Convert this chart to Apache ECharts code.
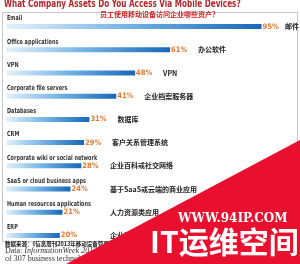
<!DOCTYPE html>
<html><head><meta charset="utf-8">
<script src="https://cdn.jsdelivr.net/npm/echarts@6/dist/echarts.min.js"></script>
<style>html,body{margin:0;padding:0;background:#fff}#c{width:300px;height:264px}</style>
</head><body><div id="c"></div>
<script>
const categories = ['Email','Office applications','VPN','Corporate file servers','Databases','CRM','Corporate wiki or social network','SaaS or cloud business apps','Human resources applications','ERP'];
const values = [95,61,48,41,31,29,28,24,21,20];
const cnLabels = ['邮件','办公软件','VPN','企业档案服务器','数据库','客户关系管理系统','企业百科或社交网络','基于SaaS或云端的商业应用','人力资源类应用','企业资源计划系统'];
const titleText = 'What Company Assets Do You Access Via Mobile Devices?';
const subtitleText = '员工使用移动设备访问企业哪些资产？';
const sourceCn = '数据来源：《信息周刊2013年移动设备管理调查》';
const sourceEn1 = 'InformationWeek 2013 Mobile Device Management Survey';
const sourceEn2 = 'of 307 business technology professionals';

const NARROW = '"DejaVu Sans Condensed", "Liberation Sans Narrow", sans-serif';
const GL = 6, GW = 269, AX_MAX = 100;
const rich = {};
values.forEach((v, i) => {
  const end = GL + GW * v / AX_MAX;
  const cnStart = Math.min(Math.max(end + 28, 110), 285);
  rich['g' + i] = {width: Math.max(cnStart - end - 1, 16), color: '#e07a34', fontFamily: NARROW, fontWeight: 'bold', fontSize: 7.5};
});
rich.c = {color: '#222', fontFamily: 'Noto Sans CJK SC', fontSize: 7, fontWeight: 'bold'};

const chart = echarts.init(document.getElementById('c'), null, {renderer: 'canvas'});
chart.setOption({
  animation: false,
  grid: {left: GL, width: GW, top: 15, bottom: 17},
  xAxis: {type: 'value', min: 0, max: AX_MAX, show: false},
  yAxis: {
    type: 'category', data: categories, inverse: true,
    axisLine: {show: false}, axisTick: {show: false}, splitLine: {show: false},
    axisLabel: {show: false}
  },
  series: [{
    type: 'bar', data: values, barWidth: 5,
    itemStyle: {color: new echarts.graphic.LinearGradient(0,0,1,0,[{offset:0,color:'#e4f1fb'},{offset:0.5,color:'#6fb0e4'},{offset:1,color:'#1766b8'}])},
    label: {show: true, position: 'right', distance: 1,
      formatter: p => '{g' + p.dataIndex + '|' + p.value + '%}{c|' + cnLabels[p.dataIndex] + '}',
      rich: rich}
  }, {
    type: 'custom',
    data: categories.map(c => [0, c]),
    encode: {x: 0, y: 1},
    silent: true,
    renderItem: (params, api) => {
      const p = api.coord([0, api.value(1)]);
      return {type: 'text', x: p[0] + 1, y: p[1] - 4.5, scaleX: 0.78,
        style: {text: categories[params.dataIndex], x: 0, y: 0, verticalAlign: 'bottom', align: 'left',
          fill: '#333', font: 'bold 7px ' + NARROW}};
    }
  }],
  graphic: [
    {type: 'rect', shape: {x: 2.5, y: 12.5, width: 295, height: 229}, style: {fill: 'none', stroke: '#c8c8c8', lineWidth: 1}, z: -1},
    {type: 'text', x: 4, y: -1.5, scaleX: 0.77, style: {text: titleText, fill: '#b3262c', font: 'bold 10.5px ' + NARROW}},
    {type: 'text', x: 100, y: 11, style: {text: subtitleText, fill: '#d21f26', font: 'bold 7px "Noto Sans CJK SC"'}},
    {type: 'text', x: 5, y: 241, style: {text: sourceCn, fill: '#111', font: 'bold 5.5px "Noto Sans CJK SC"'}},
    {type: 'text', x: 5, y: 247, style: {text: '{a|Data: }{b|' + sourceEn1 + '}', rich: {a: {fill: '#333', font: '8px "Liberation Serif"'}, b: {fill: '#333', font: 'italic 8px "Liberation Serif"'}}}},
    {type: 'text', x: 5, y: 255, style: {text: sourceEn2, fill: '#333', font: '8px "Liberation Serif"'}},
    {type: 'polygon', shape: {points: [[300,140],[300,264],[66,264]]}, style: {fill: '#e8102e'}, z: 10},
    {type: 'text', x: 178, y: 213, style: {text: 'WWW.94IP.COM', fill: '#fff', font: 'bold 12px "DejaVu Serif"'}, z: 11},
    {type: 'text', x: 150, y: 227, style: {text: 'IT运维空间', fill: '#fff', font: 'bold 30px "Noto Sans CJK SC"'}, z: 11}
  ]
});
</script></body></html>
